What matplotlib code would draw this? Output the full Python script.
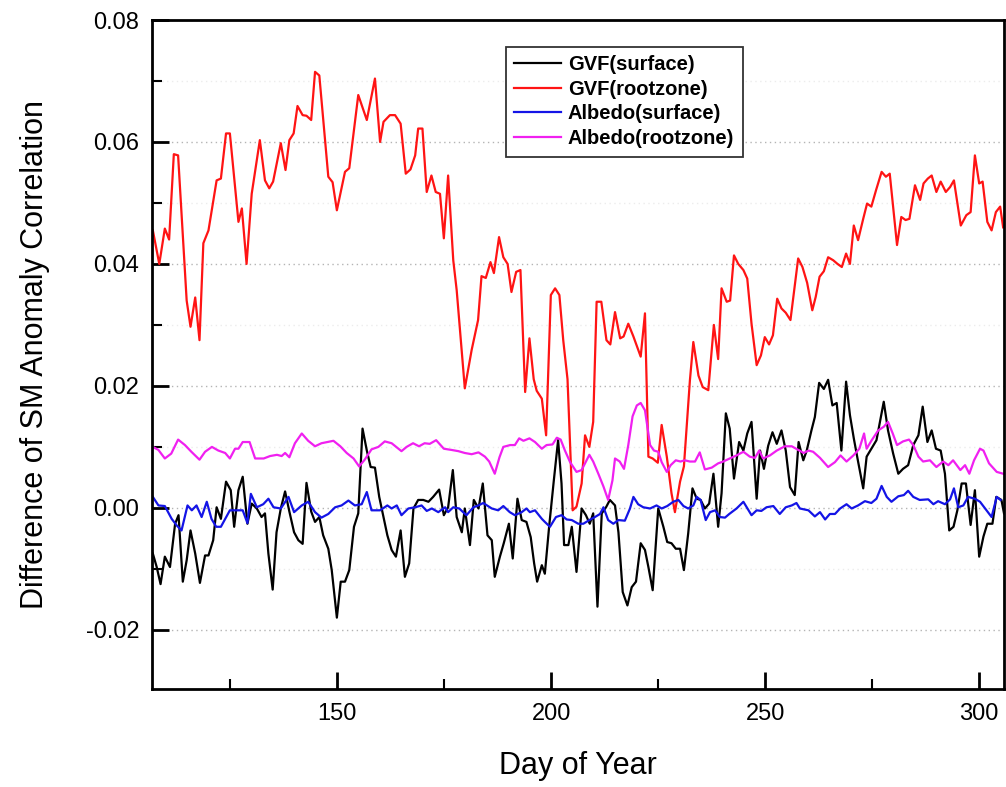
import matplotlib
matplotlib.use("Agg")
from matplotlib import pyplot as plt
from matplotlib.ticker import MultipleLocator

plt.rcParams['font.family'] = ['Liberation Sans', 'DejaVu Sans']

# values (day of year, difference)
gvf_surface_days = [106.9, 107.8, 108.7, 109.7, 110.9, 112.1, 112.9, 113.9, 114.8, 115.7,
                    116.8, 117.9, 119.1, 119.9, 121.0, 121.8, 122.8, 124.0, 125.1, 125.9,
                    126.9, 127.9, 129.0, 130.0, 131.2, 132.3, 133.1, 133.9, 134.9, 135.8,
                    136.8, 137.8, 138.8, 139.9, 140.9, 141.9, 142.8, 143.9, 144.8, 145.8,
                    146.7, 147.9, 148.7, 149.9, 150.8, 151.8, 152.8, 153.9, 154.9, 155.9,
                    156.9, 157.8, 158.8, 159.8, 160.8, 161.7, 162.7, 163.7, 164.8, 165.8,
                    166.8, 167.8, 168.9, 170.1, 171.3, 172.4, 173.8, 174.9, 175.9, 177.0,
                    177.9, 179.1, 179.8, 181.0, 181.9, 183.0, 184.0, 185.1, 186.1, 186.8,
                    188.0, 188.9, 190.1, 191.0, 192.1, 193.1, 194.2, 195.2, 196.0, 196.7,
                    197.8, 198.5, 199.5, 200.6, 201.6, 202.4, 203.0, 204.0, 204.8, 205.9,
                    207.1, 208.1, 209.0, 209.8, 210.8, 211.8, 212.8, 213.7, 214.9, 215.7,
                    216.7, 217.8, 218.8, 219.8, 220.9, 221.9, 222.7, 223.7, 225.0, 226.2,
                    227.1, 228.1, 229.1, 230.1, 231.0, 232.0, 233.0, 234.0, 234.9, 235.9,
                    236.9, 237.9, 239.0, 239.8, 240.8, 241.7, 242.7, 243.9, 244.9, 245.8,
                    246.8, 248.0, 248.8, 249.7, 250.7, 251.7, 252.7, 253.8, 254.8, 255.8,
                    256.9, 257.8, 258.9, 259.7, 260.8, 261.6, 262.6, 263.7, 264.7, 265.7,
                    266.7, 267.8, 268.9, 269.8, 270.7, 271.7, 272.9, 273.7, 274.8, 276.0,
                    277.7, 278.7, 279.9, 281.1, 282.2, 283.4, 284.6, 285.8, 286.8, 287.9,
                    288.9, 289.9, 291.0, 292.0, 293.0, 294.0, 294.9, 295.9, 296.9, 298.0,
                    299.0, 300.0, 301.0, 301.9, 303.1, 304.0, 305.2, 305.8]
gvf_surface = [-0.0075, -0.0097, -0.0125, -0.0080, -0.0097, -0.0026, -0.0012, -0.0121, -0.0086, -0.0037,
               -0.0075, -0.0123, -0.0078, -0.0078, -0.0053, 0.0001, -0.0018, 0.0043, 0.0029, -0.0031,
               0.0029, 0.0051, -0.0026, 0.0007, -0.0001, -0.0015, -0.0009, -0.0075, -0.0134, -0.0040,
               -0.0001, 0.0027, -0.0006, -0.0040, -0.0053, -0.0059, 0.0041, -0.0006, -0.0023, -0.0015,
               -0.0045, -0.0067, -0.0102, -0.0180, -0.0121, -0.0121, -0.0102, -0.0031, -0.0009, 0.0130,
               0.0094, 0.0067, 0.0066, 0.0018, -0.0015, -0.0045, -0.0069, -0.0080, -0.0037, -0.0113,
               -0.0091, -0.0001, 0.0013, 0.0013, 0.0010, 0.0018, 0.0030, -0.0012, 0.0001, 0.0062,
               -0.0015, -0.0040, -0.0001, -0.0061, 0.0013, -0.0001, 0.0040, -0.0045, -0.0053, -0.0113,
               -0.0080, -0.0058, -0.0026, -0.0083, 0.0015, -0.0020, -0.0023, -0.0048, -0.0091, -0.0121,
               -0.0094, -0.0108, -0.0031, 0.0045, 0.0111, 0.0040, -0.0061, -0.0061, -0.0031, -0.0105,
               -0.0001, -0.0012, -0.0026, -0.0009, -0.0162, -0.0009, 0.0001, 0.0013, 0.0004, -0.0040,
               -0.0138, -0.0160, -0.0130, -0.0121, -0.0058, -0.0069, -0.0097, -0.0135, -0.0001, -0.0031,
               -0.0056, -0.0058, -0.0067, -0.0067, -0.0102, -0.0042, 0.0032, 0.0015, 0.0013, -0.0001,
               0.0007, 0.0056, -0.0031, 0.0024, 0.0155, 0.0130, 0.0048, 0.0108, 0.0094, 0.0122,
               0.0141, 0.0015, 0.0094, 0.0064, 0.0102, 0.0124, 0.0105, 0.0127, 0.0094, 0.0034,
               0.0021, 0.0108, 0.0078, 0.0094, 0.0127, 0.0149, 0.0205, 0.0195, 0.0210, 0.0168,
               0.0172, 0.0094, 0.0207, 0.0152, 0.0114, 0.0076, 0.0032, 0.0084, 0.0097, 0.0111,
               0.0174, 0.0127, 0.0089, 0.0056, 0.0064, 0.0070, 0.0103, 0.0119, 0.0166, 0.0108,
               0.0127, 0.0097, 0.0094, 0.0056, -0.0037, -0.0031, -0.0004, 0.0040, 0.0040, -0.0028,
               0.0029, -0.0080, -0.0047, -0.0026, -0.0026, 0.0018, 0.0013, -0.0009]

gvf_root_days = [106.9, 108.4, 109.7, 110.7, 111.8, 112.8, 114.8, 115.7, 116.8, 117.8,
                 118.7, 119.9, 121.8, 122.8, 124.0, 124.9, 126.9, 127.7, 128.8, 130.0,
                 131.9, 133.1, 134.1, 135.0, 136.8, 137.9, 138.8, 139.8, 140.7, 141.9,
                 142.8, 143.9, 144.8, 145.8, 147.9, 148.9, 149.9, 151.8, 152.8, 154.9,
                 156.9, 158.8, 160.0, 160.8, 162.3, 163.5, 164.8, 166.0, 167.1, 168.2,
                 168.9, 169.9, 170.9, 172.0, 173.0, 174.0, 174.9, 175.9, 177.1, 177.9,
                 179.8, 181.4, 182.9, 183.7, 184.7, 185.8, 186.6, 187.8, 188.8, 189.8,
                 190.7, 191.8, 192.8, 193.9, 194.9, 195.9, 196.6, 197.8, 198.8, 199.9,
                 200.9, 201.9, 202.8, 203.8, 205.0, 205.9, 207.1, 207.9, 208.9, 209.8,
                 210.6, 211.7, 212.9, 213.8, 214.9, 216.1, 216.9, 218.0, 219.2, 220.9,
                 221.9, 222.7, 223.7, 224.9, 225.8, 227.0, 228.1, 228.9, 230.1, 231.0,
                 232.4, 233.2, 234.4, 235.4, 236.7, 238.0, 239.0, 239.8, 241.0, 241.8,
                 242.7, 243.7, 244.9, 245.8, 246.8, 248.0, 249.0, 249.9, 250.9, 251.8,
                 252.8, 253.8, 254.8, 255.9, 257.7, 258.7, 259.8, 261.0, 261.8, 262.7,
                 263.7, 264.7, 265.9, 266.9, 267.9, 268.9, 269.8, 270.7, 271.7, 272.9,
                 273.8, 274.8, 275.9, 277.2, 278.2, 279.1, 280.8, 281.8, 282.8, 283.7,
                 285.0, 286.2, 287.0, 288.0, 288.9, 290.0, 291.0, 292.2, 293.2, 294.1,
                 295.7, 297.0, 298.0, 299.0, 300.0, 300.8, 301.9, 302.9, 303.9, 304.9,
                 305.6]
gvf_root = [0.0455, 0.0400, 0.0458, 0.0440, 0.0580, 0.0578, 0.0340, 0.0297, 0.0345, 0.0275,
            0.0434, 0.0455, 0.0537, 0.0540, 0.0614, 0.0614, 0.0469, 0.0491, 0.0400, 0.0515,
            0.0603, 0.0537, 0.0524, 0.0535, 0.0598, 0.0554, 0.0603, 0.0614, 0.0659, 0.0644,
            0.0643, 0.0636, 0.0715, 0.0709, 0.0543, 0.0534, 0.0488, 0.0551, 0.0557, 0.0677,
            0.0636, 0.0704, 0.0600, 0.0633, 0.0644, 0.0644, 0.0630, 0.0548, 0.0555, 0.0578,
            0.0622, 0.0622, 0.0518, 0.0545, 0.0518, 0.0515, 0.0442, 0.0545, 0.0406, 0.0357,
            0.0196, 0.0259, 0.0308, 0.0380, 0.0377, 0.0403, 0.0385, 0.0444, 0.0411, 0.0400,
            0.0354, 0.0387, 0.0390, 0.0190, 0.0278, 0.0211, 0.0192, 0.0179, 0.0119, 0.0349,
            0.0360, 0.0349, 0.0275, 0.0211, -0.0004, 0.0002, 0.0040, 0.0119, 0.0100, 0.0141,
            0.0338, 0.0338, 0.0275, 0.0268, 0.0321, 0.0278, 0.0281, 0.0302, 0.0281, 0.0248,
            0.0319, 0.0084, 0.0081, 0.0074, 0.0136, 0.0084, 0.0024, -0.0007, 0.0043, 0.0068,
            0.0209, 0.0272, 0.0217, 0.0198, 0.0193, 0.0300, 0.0244, 0.0360, 0.0338, 0.0340,
            0.0414, 0.0400, 0.0390, 0.0376, 0.0302, 0.0234, 0.0250, 0.0280, 0.0268, 0.0283,
            0.0343, 0.0327, 0.0320, 0.0308, 0.0409, 0.0395, 0.0369, 0.0324, 0.0346, 0.0379,
            0.0388, 0.0411, 0.0406, 0.0400, 0.0395, 0.0417, 0.0400, 0.0463, 0.0439, 0.0474,
            0.0499, 0.0494, 0.0521, 0.0551, 0.0543, 0.0548, 0.0431, 0.0477, 0.0472, 0.0474,
            0.0529, 0.0505, 0.0532, 0.0540, 0.0545, 0.0518, 0.0535, 0.0518, 0.0526, 0.0537,
            0.0463, 0.0480, 0.0485, 0.0578, 0.0532, 0.0535, 0.0469, 0.0455, 0.0485, 0.0494,
            0.0460]

albedo_surface_days = [106.9, 108.2, 109.7, 111.3, 112.5, 113.6, 115.0, 116.0, 117.1, 118.3,
                       119.5, 120.6, 121.7, 122.8, 123.8, 124.9, 126.3, 127.9, 129.0, 129.8,
                       131.2, 132.7, 133.9, 135.1, 136.8, 138.6, 139.9, 141.7, 143.2, 144.8,
                       146.3, 147.9, 149.5, 151.0, 152.6, 154.1, 155.7, 156.9, 158.0, 160.0,
                       161.7, 162.7, 163.9, 165.0, 166.6, 168.2, 169.7, 170.9, 172.1, 173.6,
                       175.2, 175.9, 177.1, 178.5, 179.4, 180.2, 181.8, 183.0, 184.1, 186.1,
                       187.6, 188.8, 190.3, 191.5, 193.1, 194.2, 195.0, 196.2, 197.8, 198.5,
                       199.7, 201.1, 202.4, 203.6, 204.8, 206.3, 207.5, 208.9, 210.2, 211.4,
                       212.2, 213.3, 214.5, 215.7, 217.2, 218.4, 219.2, 220.3, 221.5, 223.1,
                       224.6, 225.8, 227.1, 228.5, 229.7, 230.9, 232.0, 233.2, 234.0, 234.9,
                       236.1, 237.1, 238.3, 239.4, 240.6, 241.6, 243.3, 244.9, 246.8, 248.0,
                       249.1, 250.3, 251.9, 253.4, 254.8, 256.2, 257.3, 258.1, 260.1, 261.6,
                       262.8, 264.0, 265.1, 266.3, 267.5, 269.0, 270.2, 271.7, 273.3, 274.8,
                       276.0, 277.2, 278.4, 279.5, 281.1, 282.4, 283.4, 284.6, 286.1, 288.1,
                       289.3, 290.4, 292.0, 293.2, 294.1, 295.1, 296.3, 297.4, 299.0, 300.2,
                       301.7, 302.9, 304.1, 305.0]
albedo_surface = [0.0018, 0.0004, 0.0003, -0.0018, -0.0029, -0.0037, 0.0004, -0.0004, 0.0004, -0.0015,
                  0.0010, -0.0018, -0.0031, -0.0031, -0.0018, -0.0004, -0.0004, -0.0004, -0.0025, 0.0023,
                  0.0001, 0.0006, 0.0015, 0.0001, -0.0001, 0.0018, -0.0007, 0.0004, 0.0010, -0.0007,
                  -0.0016, -0.0010, 0.0001, 0.0004, 0.0012, 0.0004, 0.0006, 0.0026, -0.0004, -0.0004,
                  0.0004, -0.0001, 0.0004, -0.0012, -0.0001, 0.0001, 0.0004, -0.0005, -0.0001, -0.0007,
                  0.0001, -0.0007, 0.0001, -0.0001, -0.0007, -0.0012, 0.0001, 0.0004, 0.0008, -0.0001,
                  -0.0004, 0.0003, -0.0007, -0.0012, -0.0007, -0.0001, -0.0007, -0.0004, -0.0018, -0.0023,
                  -0.0031, -0.0015, -0.0012, -0.0019, -0.0020, -0.0026, -0.0026, -0.0020, -0.0015, -0.0010,
                  0.0001, -0.0020, -0.0026, -0.0020, -0.0021, -0.0001, 0.0018, 0.0006, 0.0001, -0.0001,
                  0.0004, -0.0001, 0.0003, 0.0010, 0.0013, 0.0003, -0.0001, 0.0004, 0.0018, 0.0013,
                  -0.0020, -0.0007, -0.0004, -0.0015, -0.0016, -0.0010, -0.0001, 0.0010, -0.0012, -0.0004,
                  -0.0005, 0.0001, 0.0003, -0.0010, 0.0001, 0.0004, 0.0008, -0.0001, -0.0004, -0.0014,
                  -0.0007, -0.0019, -0.0010, -0.0010, -0.0001, 0.0006, -0.0001, 0.0004, 0.0011, 0.0008,
                  0.0015, 0.0036, 0.0018, 0.0010, 0.0019, 0.0021, 0.0028, 0.0018, 0.0013, 0.0014,
                  0.0006, 0.0011, 0.0006, 0.0014, 0.0032, 0.0001, 0.0004, 0.0018, 0.0015, 0.0010,
                  -0.0004, -0.0015, 0.0018, 0.0013]

albedo_root_days = [106.9, 108.2, 109.7, 111.2, 112.8, 114.4, 115.9, 117.8, 119.1, 120.7,
                    122.2, 123.8, 124.9, 126.1, 126.9, 127.9, 129.5, 130.8, 132.8, 134.3,
                    135.9, 137.0, 137.8, 138.8, 140.1, 141.7, 143.2, 144.8, 146.3, 149.1,
                    150.7, 152.2, 153.8, 155.1, 156.4, 158.0, 159.6, 161.1, 162.7, 165.0,
                    166.2, 167.7, 169.1, 170.4, 171.6, 173.1, 174.9, 176.7, 178.3, 179.8,
                    181.4, 183.0, 184.5, 185.5, 186.8, 187.9, 188.8, 190.4, 191.5, 192.5,
                    193.5, 194.9, 196.2, 197.8, 198.9, 200.3, 201.3, 202.2, 203.2, 204.4,
                    205.9, 207.1, 208.9, 209.8, 211.0, 212.2, 213.3, 214.3, 214.9, 216.0,
                    217.0, 218.0, 219.0, 220.0, 220.9, 221.9, 223.1, 224.0, 225.0, 225.8,
                    227.0, 227.9, 229.1, 230.2, 231.2, 232.4, 233.6, 234.7, 235.9, 237.5,
                    239.0, 240.2, 241.4, 243.3, 244.9, 246.4, 247.6, 248.6, 249.5, 251.1,
                    252.7, 254.6, 256.2, 257.7, 259.0, 260.1, 261.2, 262.8, 264.7, 266.3,
                    267.6, 269.0, 270.6, 272.0, 273.1, 273.7, 274.8, 276.4, 277.7, 278.7,
                    279.8, 280.8, 282.2, 283.6, 284.6, 285.8, 286.9, 288.5, 290.0, 291.6,
                    292.8, 293.9, 295.6, 296.7, 297.7, 298.8, 300.2, 301.0, 302.3, 304.1,
                    305.6]
albedo_root = [0.0100, 0.0095, 0.0081, 0.0089, 0.0112, 0.0103, 0.0092, 0.0079, 0.0092, 0.0100,
               0.0094, 0.0090, 0.0081, 0.0097, 0.0097, 0.0108, 0.0108, 0.0081, 0.0081, 0.0085,
               0.0087, 0.0085, 0.0090, 0.0083, 0.0106, 0.0122, 0.0110, 0.0101, 0.0106, 0.0110,
               0.0101, 0.0090, 0.0081, 0.0068, 0.0079, 0.0096, 0.0100, 0.0109, 0.0106, 0.0093,
               0.0100, 0.0106, 0.0101, 0.0106, 0.0105, 0.0111, 0.0097, 0.0095, 0.0093, 0.0090,
               0.0088, 0.0091, 0.0084, 0.0076, 0.0056, 0.0083, 0.0100, 0.0103, 0.0103, 0.0114,
               0.0110, 0.0114, 0.0108, 0.0097, 0.0103, 0.0104, 0.0115, 0.0112, 0.0094, 0.0075,
               0.0059, 0.0062, 0.0087, 0.0076, 0.0056, 0.0035, 0.0013, 0.0045, 0.0081, 0.0076,
               0.0064, 0.0103, 0.0150, 0.0168, 0.0172, 0.0160, 0.0103, 0.0094, 0.0092, 0.0075,
               0.0059, 0.0070, 0.0078, 0.0076, 0.0078, 0.0076, 0.0076, 0.0091, 0.0063, 0.0066,
               0.0073, 0.0076, 0.0080, 0.0086, 0.0092, 0.0084, 0.0082, 0.0094, 0.0081, 0.0086,
               0.0094, 0.0101, 0.0101, 0.0095, 0.0090, 0.0094, 0.0092, 0.0082, 0.0067, 0.0075,
               0.0086, 0.0076, 0.0086, 0.0097, 0.0122, 0.0097, 0.0110, 0.0127, 0.0133, 0.0141,
               0.0122, 0.0103, 0.0109, 0.0112, 0.0103, 0.0084, 0.0076, 0.0078, 0.0067, 0.0076,
               0.0070, 0.0078, 0.0062, 0.0070, 0.0056, 0.0078, 0.0097, 0.0094, 0.0073, 0.0059,
               0.0056]

series_labels = ['GVF(surface)', 'GVF(rootzone)', 'Albedo(surface)', 'Albedo(rootzone)']
series_colors = ['black', '#ff1414', '#1414e6', '#f020f0']

fig = plt.figure(figsize=(10.06, 7.87), dpi=100)
ax = fig.add_axes([152 / 1006, 1 - 689 / 787, 852 / 1006, 669 / 787])

ax.plot(gvf_surface_days, gvf_surface, color=series_colors[0], lw=1.6, label=series_labels[0])
ax.plot(gvf_root_days, gvf_root, color=series_colors[1], lw=1.6, label=series_labels[1])
ax.plot(albedo_surface_days, albedo_surface, color=series_colors[2], lw=1.6, label=series_labels[2])
ax.plot(albedo_root_days, albedo_root, color=series_colors[3], lw=1.6, label=series_labels[3])

ax.set_xlim(106.7, 305.8)
ax.set_ylim(-0.0297, 0.08)
ax.xaxis.set_major_locator(MultipleLocator(50))
ax.xaxis.set_minor_locator(MultipleLocator(25))
ax.yaxis.set_major_locator(MultipleLocator(0.02))
ax.yaxis.set_minor_locator(MultipleLocator(0.01))
ax.yaxis.set_major_formatter(plt.FuncFormatter(lambda v, p: '%.2f' % v))

ax.grid(True, which='major', axis='y', color='#b4b4b4', lw=1.0, ls=(0, (1, 2.5)))
ax.grid(True, which='minor', axis='y', color='#ececec', lw=1.0, ls=(0, (1, 2.5)))

for sp in ax.spines.values():
    sp.set_linewidth(2)
ax.tick_params(which='major', direction='in', length=12, width=2, labelsize=17)
ax.tick_params(which='minor', direction='in', length=7, width=1.5)
ax.tick_params(axis='x', pad=10)
ax.tick_params(axis='y', pad=9)

ax.set_xlabel('Day of Year', fontsize=22)
ax.set_ylabel('Difference of SM Anomaly Correlation', fontsize=22)
ax.xaxis.set_label_coords(0.5, -0.092)
ax.yaxis.set_label_coords(-0.12, 0.5)

leg = ax.legend(loc='upper left', bbox_to_anchor=(0.4155, 0.960), borderaxespad=0,
                prop={'weight': 'bold', 'size': 14.5}, fancybox=False, framealpha=1,
                handlelength=2.3, handletextpad=0.35, labelspacing=0.28, borderpad=0.42)
leg.get_frame().set_edgecolor('#333333')
leg.get_frame().set_linewidth(1.3)
for ln in leg.get_lines():
    ln.set_linewidth(1.6)

plt.savefig('out.png', dpi=100)
